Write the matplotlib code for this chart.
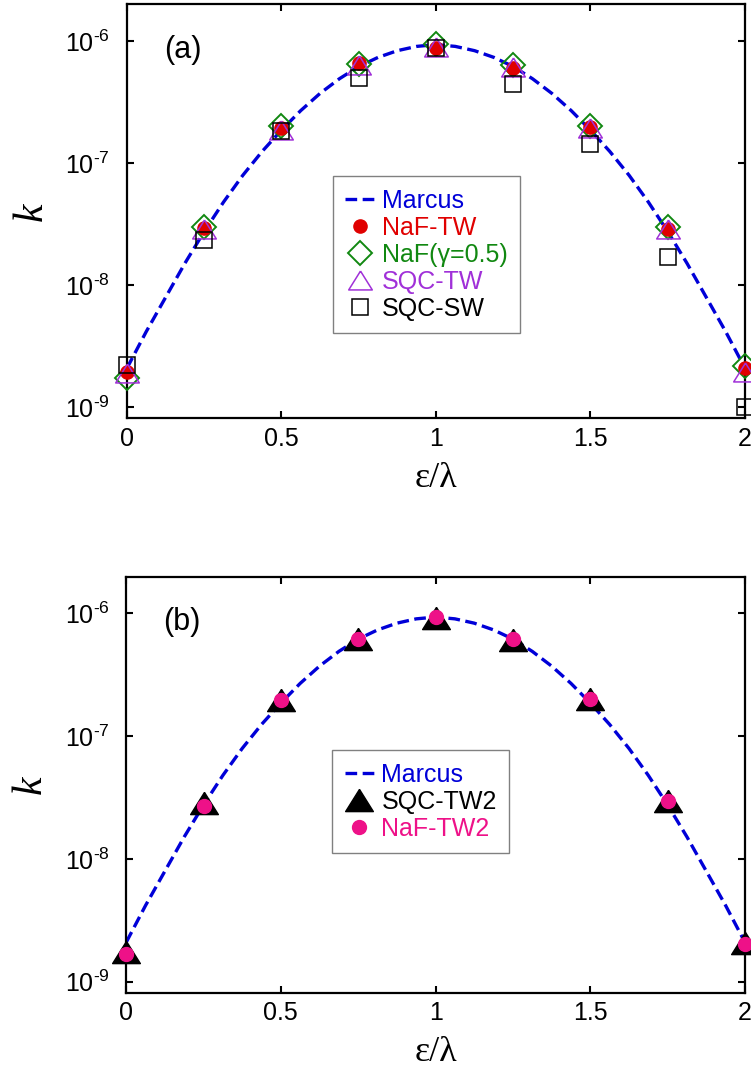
import numpy as np
import matplotlib
matplotlib.use('Agg')
import matplotlib.pyplot as plt
from matplotlib.ticker import FixedLocator, NullLocator

plt.rcParams['font.family'] = 'Liberation Sans'
plt.rcParams['mathtext.fontset'] = 'custom'
plt.rcParams['mathtext.rm'] = 'Liberation Sans'
plt.rcParams['mathtext.it'] = 'Liberation Sans:italic'

# reduced driving force eps/lambda
x = [0, 0.25, 0.5, 0.75, 1.0, 1.25, 1.5, 1.75, 2.0]

# Marcus curve (dashed line)
marcus_x = [0, 0.0625, 0.125, 0.1875, 0.25, 0.3125, 0.375, 0.4375, 0.5,
            0.5625, 0.625, 0.6875, 0.75, 0.8125, 0.875, 0.9375, 1.0,
            1.0625, 1.125, 1.1875, 1.25, 1.3125, 1.375, 1.4375, 1.5,
            1.5625, 1.625, 1.6875, 1.75, 1.8125, 1.875, 1.9375, 2.0]
marcus_k = [2.09e-9, 4.17e-9, 7.94e-9, 1.51e-8, 2.75e-8, 4.79e-8, 7.94e-8, 1.245e-7, 1.86e-7,
            2.69e-7, 3.72e-7, 4.90e-7, 6.17e-7, 7.33e-7, 8.32e-7, 9.02e-7, 9.33e-7,
            9.02e-7, 8.32e-7, 7.33e-7, 6.17e-7, 4.90e-7, 3.72e-7, 2.69e-7, 1.86e-7,
            1.245e-7, 7.94e-8, 4.79e-8, 2.75e-8, 1.51e-8, 7.94e-9, 4.17e-9, 2.09e-9]

# panel (a)
naf_tw = [1.96e-9, 2.92e-8, 1.92e-7, 6.6e-7, 8.8e-7, 6.0e-7, 1.96e-7, 2.9e-8, 2.1e-9]
naf_g05 = [1.74e-9, 2.98e-8, 2.0e-7, 6.5e-7, 9.4e-7, 6.3e-7, 2.0e-7, 2.98e-8, 2.2e-9]
sqc_tw = [1.9e-9, 2.9e-8, 1.86e-7, 6.3e-7, 8.9e-7, 6.1e-7, 1.92e-7, 2.88e-8, 1.93e-9]
sqc_sw = [2.23e-9, 2.34e-8, 1.83e-7, 4.93e-7, 8.67e-7, 4.48e-7, 1.42e-7, 1.71e-8, 1.0e-9]

# panel (b)
sqc_tw2 = [1.76e-9, 2.85e-8, 1.97e-7, 6.2e-7, 9.2e-7, 6.1e-7, 2.0e-7, 2.96e-8, 2.08e-9]
naf_tw2 = [1.67e-9, 2.7e-8, 1.96e-7, 6.2e-7, 9.3e-7, 6.2e-7, 2.0e-7, 2.99e-8, 2.02e-9]

xticks = [0, 0.5, 1, 1.5, 2]
xticklabels = ['0', '0.5', '1', '1.5', '2']
yticks = [1e-9, 1e-8, 1e-7, 1e-6]
yticklabels = [r'$10^{\text{-}9}$', r'$10^{\text{-}8}$', r'$10^{\text{-}7}$', r'$10^{\text{-}6}$']

blue = '#0000d8'
red = '#e00000'
green = '#118811'
purple = '#a030d8'
pink = '#ee1188'

# closed triangle, a bit flatter than tall
tri = [(0, 0.8), (-1, -0.8), (1, -0.8), (0, 0.8)]

fig = plt.figure(figsize=(7.51, 10.70), dpi=100)
axa = fig.add_axes([0.169, 0.609, 0.823, 0.387])
axb = fig.add_axes([0.168, 0.0722, 0.824, 0.389])


def style(ax, tag):
    ax.set_yscale('log')
    ax.set_xlim(0, 2)
    ax.set_ylim(10**-9.09, 10**-5.70)
    ax.xaxis.set_major_locator(FixedLocator(xticks))
    ax.set_xticklabels(xticklabels)
    ax.yaxis.set_major_locator(FixedLocator(yticks))
    ax.yaxis.set_minor_locator(NullLocator())
    ax.set_yticklabels(yticklabels)
    ax.tick_params(which='both', direction='in', top=True, right=True,
                   length=5, width=1.5, labelsize=18)
    ax.tick_params(axis='y', pad=12)
    ax.tick_params(axis='x', pad=6)
    for s in ax.spines.values():
        s.set_linewidth(1.6)
    ax.set_ylabel('k', fontsize=30, family='Liberation Serif', style='italic', rotation=90)
    ax.yaxis.set_label_coords(-0.123, 0.5)
    ax.set_xlabel('ε/λ', fontsize=26, family='Liberation Serif')
    ax.xaxis.set_label_coords(0.5, -0.105)
    ax.text(0.06, 0.89, tag, transform=ax.transAxes, fontsize=22, va='center')


leg_kw = dict(loc='upper left', fontsize=18, handlelength=1.17, handletextpad=0.3,
              labelspacing=0.12, borderpad=0.5, borderaxespad=0, fancybox=False,
              framealpha=1, edgecolor='#808080')

# (a)
style(axa, '(a)')
l0, = axa.plot(marcus_x, marcus_k, '--', color=blue, lw=2.4, dashes=(3.5, 1.65), zorder=2)
h2, = axa.plot(x, naf_g05, 'D', ms=12.2, mfc='none', mec=green, mew=1.4, clip_on=False, zorder=3)
h1, = axa.plot(x, naf_tw, 'o', ms=9.5, color=red, clip_on=False, zorder=4)
h3, = axa.plot(x, sqc_tw, marker=tri, ls='none', ms=17, mfc='none', mec=purple, mew=1.1,
               clip_on=False, zorder=5)
h4, = axa.plot(x, sqc_sw, 's', ms=11, mfc='none', mec='black', mew=1.1, clip_on=False, zorder=6)
axa.legend([l0, h1, h2, h3, h4], ['Marcus', 'NaF-TW', 'NaF(γ=0.5)', 'SQC-TW', 'SQC-SW'],
           labelcolor=[blue, red, green, purple, 'black'],
           bbox_to_anchor=(0.333, 0.585), **leg_kw)

# (b)
style(axb, '(b)')
m0, = axb.plot(marcus_x, marcus_k, '--', color=blue, lw=2.4, dashes=(3.5, 1.65), zorder=2)
m1, = axb.plot(x, sqc_tw2, marker=tri, ls='none', ms=20, color='black', clip_on=False, zorder=3)
m2, = axb.plot(x, naf_tw2, 'o', ms=10, color=pink, clip_on=False, zorder=4)
axb.legend([m0, m1, m2], ['Marcus', 'SQC-TW2', 'NaF-TW2'],
           labelcolor=[blue, 'black', pink],
           bbox_to_anchor=(0.333, 0.583), **leg_kw)

fig.savefig('out.png', dpi=100)
